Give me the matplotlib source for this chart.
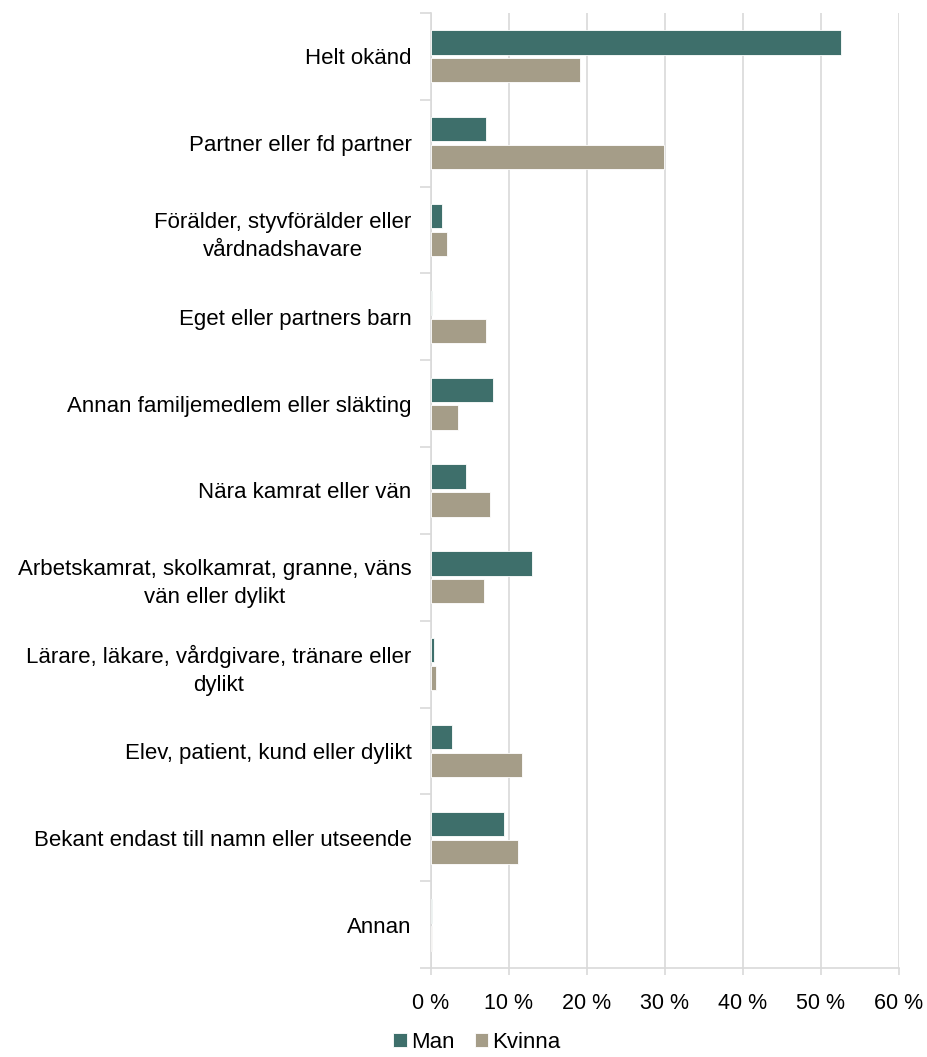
import matplotlib.pyplot as plt
import numpy as np

plt.rcParams['font.family'] = ['Liberation Sans', 'DejaVu Sans']

categories = [
    "Helt okänd",
    "Partner eller fd partner",
    "Förälder, styvförälder eller\nvårdnadshavare",
    "Eget eller partners barn",
    "Annan familjemedlem eller släkting",
    "Nära kamrat eller vän",
    "Arbetskamrat, skolkamrat, granne, väns\nvän eller dylikt",
    "Lärare, läkare, vårdgivare, tränare eller\ndylikt",
    "Elev, patient, kund eller dylikt",
    "Bekant endast till namn eller utseende",
    "Annan",
]
man = [52.6, 7.0, 1.4, 0.1, 7.9, 4.5, 12.9, 0.4, 2.7, 9.4, 0.1]
kvinna = [19.1, 29.9, 2.0, 7.0, 3.5, 7.6, 6.8, 0.6, 11.7, 11.2, 0.1]
xticks = [0, 10, 20, 30, 40, 50, 60]

c_man = '#3E6F6B'
c_kvinna = '#A59D88'
grid_c = '#D9D9D9'

fig = plt.figure(figsize=(9.27, 10.57), dpi=100)
ax = fig.add_axes([431 / 927, 1 - 968 / 1057, (899 - 431) / 927, (968 - 13) / 1057])

y = np.arange(len(categories))
h = 0.28
ax.barh(y - 0.16, man, height=h, color=c_man, edgecolor='white', linewidth=0.6, label='Man', zorder=3)
ax.barh(y + 0.16, kvinna, height=h, color=c_kvinna, edgecolor='white', linewidth=0.6, label='Kvinna', zorder=3)

ax.set_xlim(0, 60)
ax.set_ylim(len(categories) - 0.5, -0.5)

ax.set_xticks(xticks)
ax.set_xticklabels([f"{t} %" for t in xticks], fontsize=15.5)
ax.xaxis.grid(True, color=grid_c, linewidth=1.2, zorder=0)
ax.tick_params(axis='x', length=5, color=grid_c, width=1.2, pad=13)

# category separators as major ticks, labels as minor ticks
ax.set_yticks(np.arange(len(categories) + 1) - 0.5)
ax.set_yticklabels([])
ax.set_yticks(y, minor=True)
ax.set_yticklabels(categories, minor=True, fontsize=16, multialignment='center', linespacing=1.45)
ax.tick_params(axis='y', which='major', length=8, color=grid_c, width=1.2)
ax.tick_params(axis='y', which='minor', length=0, pad=14)

for s in ['top', 'right']:
    ax.spines[s].set_visible(False)
for s in ['left', 'bottom']:
    ax.spines[s].set_color(grid_c)
    ax.spines[s].set_linewidth(1.2)

fig.legend(loc='center', bbox_to_anchor=(477 / 927, 1 - 1042 / 1057), ncol=2, frameon=False,
           fontsize=16, handlelength=0.6, handleheight=0.6, handletextpad=0.2, columnspacing=0.9)

fig.savefig('out.png', dpi=100)
